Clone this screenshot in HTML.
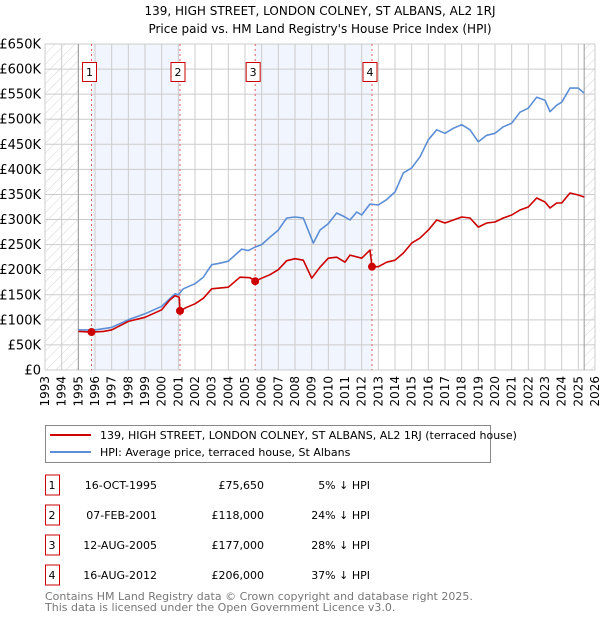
<!DOCTYPE html>
<html><head><meta charset="utf-8"><style>
body{margin:0;background:#fff;}
svg text{font-family:"DejaVu Sans","Liberation Sans",sans-serif;}
</style></head><body>
<svg id="chart" width="600" height="620" xmlns="http://www.w3.org/2000/svg">
<defs>
<pattern id="hatch" width="7" height="7" patternUnits="userSpaceOnUse" patternTransform="rotate(45)">
<line x1="0" y1="0" x2="0" y2="7" stroke="#d4d4d4" stroke-width="1"/>
</pattern>
</defs>
<text x="320" y="15" font-size="12" text-anchor="middle">139, HIGH STREET, LONDON COLNEY, ST ALBANS, AL2 1RJ</text>
<text x="320" y="33" font-size="12" text-anchor="middle">Price paid vs. HM Land Registry's House Price Index (HPI)</text>
<g id="plot"></g>
<g>
<rect x="45.5" y="425.5" width="445" height="37" fill="#fff" stroke="#888"/>
<line x1="50" y1="435" x2="91" y2="435" stroke="#cc0000" stroke-width="2"/>
<text x="100" y="439" font-size="11">139, HIGH STREET, LONDON COLNEY, ST ALBANS, AL2 1RJ (terraced house)</text>
<line x1="50" y1="452" x2="91" y2="452" stroke="#5b8ed6" stroke-width="2"/>
<text x="100" y="456" font-size="11">HPI: Average price, terraced house, St Albans</text>
</g>
<g id="table" font-size="11"></g>
<text x="45" y="600" font-size="11" fill="#777">Contains HM Land Registry data © Crown copyright and database right 2025.</text>
<text x="45" y="611" font-size="11" fill="#777">This data is licensed under the Open Government Licence v3.0.</text>
</svg>
<script>
const hpiYears=[1995,1996,1997,1998,1999,2000,2000.8,2001.0,2001.3,2002,2002.5,2003,2003.5,2004,2004.5,2004.8,2005.2,2005.6,2006,2006.5,2007,2007.5,2008,2008.5,2009.1,2009.5,2010,2010.5,2011,2011.3,2011.7,2012,2012.5,2013,2013.5,2014,2014.5,2015,2015.5,2016,2016.5,2017,2017.5,2018,2018.5,2019,2019.5,2020,2020.5,2021,2021.5,2022,2022.5,2023,2023.3,2023.7,2024,2024.5,2025,2025.35];
const hpiValues=[80,80,85,100,112,127,152,150,162,172,185,210,213,217,232,241,238,245,250,265,279,303,305,303,253,279,292,313,305,299,315,309,331,329,340,355,393,403,425,459,479,472,482,489,479,455,468,472,485,492,514,522,544,538,515,528,534,562,562,552];
const ppYears=[1995,1995.79,1996.5,1997,1998,1999,2000,2000.5,2000.8,2001.05,2001.1,2001.5,2002,2002.5,2003,2004,2004.7,2005.3,2005.61,2006,2006.5,2007,2007.5,2008,2008.5,2009.0,2009.5,2010,2010.5,2011,2011.3,2012,2012.5,2012.62,2013,2013.5,2014,2014.5,2015,2015.5,2016,2016.5,2017,2017.5,2018,2018.5,2019,2019.5,2020,2020.5,2021,2021.5,2022,2022.5,2023,2023.3,2023.7,2024,2024.5,2025,2025.35];
const ppValues=[77,75.65,77,80,97,105,120,140,148,145,118,125,132,143,162,165,185,184,177,183,190,200,218,222,219,183,205,223,225,215,229,223,239,206,206,215,219,233,253,263,279,299,293,299,305,303,285,293,295,303,309,319,325,343,335,323,333,333,353,349,345];
const saleYears=[1995.79,2001.1,2005.61,2012.62];
const saleValues=[75.65,118,177,206];
const saleLabels=["1","2","3","4"];
const saleDates=["16-OCT-1995","07-FEB-2001","12-AUG-2005","16-AUG-2012"];
const salePrices=["£75,650","£118,000","£177,000","£206,000"];
const saleDiffs=["5% ↓ HPI","24% ↓ HPI","28% ↓ HPI","37% ↓ HPI"];
const yTicks=[0,50,100,150,200,250,300,350,400,450,500,550,600,650];
const yTickLabels=["£0","£50K","£100K","£150K","£200K","£250K","£300K","£350K","£400K","£450K","£500K","£550K","£600K","£650K"];
const xTicks=[1993,1994,1995,1996,1997,1998,1999,2000,2001,2002,2003,2004,2005,2006,2007,2008,2009,2010,2011,2012,2013,2014,2015,2016,2017,2018,2019,2020,2021,2022,2023,2024,2025,2026];

const X0=45,X1=595,Y0=370,Y1=44;
const xs=y=>X0+(y-1993)/33*(X1-X0);
const ys=v=>Y0-v/650*(Y0-Y1);
const NS="http://www.w3.org/2000/svg";
const plot=document.getElementById('plot');
function mk(tag,attrs,parent){const e=document.createElementNS(NS,tag);for(const k in attrs)e.setAttribute(k,attrs[k]);(parent||plot).appendChild(e);return e;}
for(let i=0;i<saleYears.length;i+=2){
 const b=mk('rect',{x:xs(saleYears[i]),y:Y1,width:xs(saleYears[i+1])-xs(saleYears[i]),height:Y0-Y1,fill:'#eef3fc',opacity:0.8});
 
 
}
const h1=mk('rect',{x:X0,y:Y1,width:xs(1995)-X0,height:Y0-Y1,fill:'url(#hatch)'});


const h2=mk('rect',{x:xs(2025.35),y:Y1,width:X1-xs(2025.35),height:Y0-Y1,fill:'url(#hatch)'});


yTicks.forEach((t,i)=>{
 const l=mk('line',{x1:X0,x2:X1,y1:ys(t),y2:ys(t),stroke:'#ccc','stroke-width':1});
 
 
 const tx=mk('text',{x:X0-4,y:ys(t)+4.5,'font-size':13,'text-anchor':'end'});
 tx.textContent=yTickLabels[i];
 
 
});
xTicks.forEach(t=>{
 const l=mk('line',{x1:xs(t),x2:xs(t),y1:Y1,y2:Y0,stroke:'#ccc','stroke-width':1});
 
 
 const tx=mk('text',{x:0,y:0,'font-size':12,'text-anchor':'end',transform:`translate(${xs(t)+4},${Y0+6}) rotate(-90)`});
 tx.textContent=t;
 
 
});
[xs(1995),xs(2025.35)].forEach(x=>{
 const l=mk('line',{x1:x,x2:x,y1:Y1,y2:Y0,stroke:'#999','stroke-width':1});
 
 
});
saleYears.forEach((y,i)=>{
 const l=mk('line',{x1:xs(y),x2:xs(y),y1:Y1,y2:Y0,stroke:'#e06060','stroke-width':1,'stroke-dasharray':'2,3'});
 
 
 const bx=xs(y)-2;
 const r=mk('rect',{x:bx-7,y:62.5,width:14,height:19,fill:'#fff',stroke:'#cc0000','stroke-width':1});
 
 
 const t=mk('text',{x:bx,y:76,'font-size':11,'text-anchor':'middle'});
 t.textContent=saleLabels[i];
 
 
});
function path(xa,va,color,name){
 const d=xa.map((y,i)=>(i?'L':'M')+xs(y).toFixed(1)+','+ys(va[i]).toFixed(1)).join('');
 const p=mk('path',{d:d,fill:'none',stroke:color,'stroke-width':1.6,'stroke-linejoin':'round'});
 
 
}
path(hpiYears,hpiValues,'#5b8ed6','hpi-line');
path(ppYears,ppValues,'#cc0000','price-paid-line');
saleYears.forEach((y,i)=>{
 const c=mk('circle',{cx:xs(y),cy:ys(saleValues[i]),r:4,fill:'#cc0000'});
 
 
});
const tb=document.getElementById('table');
saleLabels.forEach((s,i)=>{
 const cy=485+i*30;
 const r=mk('rect',{x:45.5,y:cy-10,width:14,height:20,fill:'#fff',stroke:'#cc0000'},tb);
 
 
 const vals=[[s,52,'middle'],[saleDates[i],157,'end'],[salePrices[i],264,'end'],[saleDiffs[i],370,'end']];
 vals.forEach(v=>{
  const t=mk('text',{x:v[1],y:cy+4,'text-anchor':v[2]},tb);
  t.textContent=v[0];
  
  
 });
});
</script>
</body></html>
